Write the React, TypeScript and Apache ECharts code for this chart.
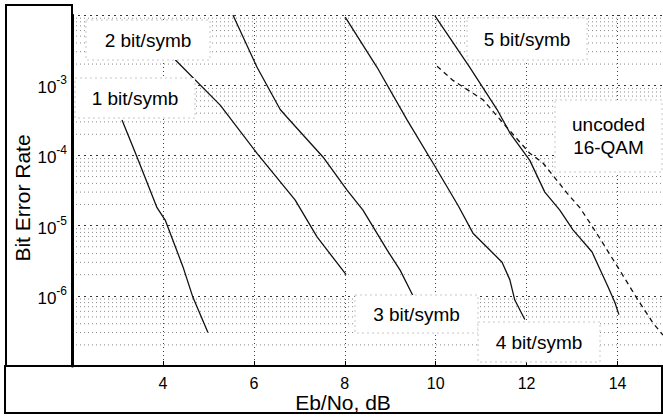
import React, { useEffect, useRef } from "react";
import * as echarts from "echarts";

const FONT = "'Liberation Sans', Arial, Helvetica, sans-serif";

// Eb/No (dB) vs bit error rate
const ber1bit: [number, number][] = [
  [3.1, 3.2e-4], [3.43, 9.5e-5], [3.87, 1.8e-5], [4.05, 1.2e-5],
  [4.44, 2.6e-6], [4.66, 9.5e-7], [4.99, 3.0e-7],
];
const ber2bit: [number, number][] = [
  [4.27, 2.3e-3], [5.26, 5.2e-4], [6.07, 1.07e-4], [6.91, 2.3e-5],
  [7.39, 6.9e-6], [8.03, 2.0e-6],
];
const ber3bit: [number, number][] = [
  [5.54, 1.0e-2], [6.07, 1.8e-3], [6.58, 4.5e-4], [6.73, 3.5e-4],
  [7.52, 9.5e-5], [8.05, 3.2e-5], [8.4, 1.66e-5], [8.93, 4.5e-6],
  [9.22, 2.3e-6], [9.5, 1.0e-6],
];
const ber4bit: [number, number][] = [
  [8.01, 9.3e-3], [8.71, 1.8e-3], [9.37, 3.2e-4], [9.94, 7.8e-5],
  [10.49, 1.95e-5], [10.82, 7.8e-6], [11.19, 4.5e-6], [11.46, 3.0e-6],
  [11.63, 1.7e-6], [11.74, 8.7e-7], [11.96, 4.6e-7],
];
const ber5bit: [number, number][] = [
  [9.98, 9.8e-3], [10.75, 1.8e-3], [11.35, 4.5e-4], [11.63, 2.1e-4],
  [12.07, 8.5e-5], [12.4, 3.0e-5], [12.73, 1.66e-5], [13.02, 8.7e-6],
  [13.44, 4.2e-6], [13.57, 2.75e-6], [13.79, 1.35e-6], [13.94, 8.1e-7],
  [14.03, 5.4e-7],
];
const berUncoded: [number, number][] = [
  [10.03, 1.86e-3], [10.38, 1.17e-3], [11.04, 6.2e-4], [11.48, 2.9e-4],
  [12.07, 1.07e-4], [12.36, 7.8e-5], [12.89, 2.9e-5], [13.17, 1.8e-5],
  [13.39, 1.1e-5], [13.61, 6.6e-6], [14.05, 2.3e-6], [14.45, 8.7e-7],
  [14.78, 4.1e-7], [15.0, 2.75e-7],
];

const curveNames = ["1 bit/symb", "2 bit/symb", "3 bit/symb", "4 bit/symb", "5 bit/symb", "uncoded 16-QAM"];
const labelTexts = ["1 bit/symb", "2 bit/symb", "3 bit/symb", "4 bit/symb", "5 bit/symb", "uncoded\n16-QAM"];
const xTitle = "Eb/No, dB";
const yTitle = "Bit Error Rate";
const xRange = [2, 15];
const labelledExponents = [-6, -5, -4, -3];
const decades = [-7, -6, -5, -4, -3];
const minorMultipliers = [2, 3, 4, 5, 6, 7, 8, 9];

export default function App() {
  const ref = useRef<HTMLDivElement>(null);
  useEffect(() => {
    if (!ref.current) return;
    const chart = echarts.init(ref.current, null, { renderer: "svg" });

    // minor (2..9 per decade) horizontal grid lines, as broken line segments
    const minorData: any[] = [];
    decades.forEach((e) =>
      minorMultipliers.forEach((k) => {
        const v = k * Math.pow(10, e);
        minorData.push([xRange[0], v], [xRange[1], v], "-");
      })
    );

    const curveData = [ber1bit, ber2bit, ber3bit, ber4bit, ber5bit, berUncoded];
    const series: any[] = [
      {
        name: "minor-grid",
        type: "line",
        data: minorData,
        symbol: "none",
        showSymbol: false,
        connectNulls: false,
        silent: true,
        z: 1,
        lineStyle: { color: "#8a8a8a", width: 1, type: [1, 3] },
      },
    ];
    curveData.forEach((d, i) =>
      series.push({
        name: curveNames[i],
        type: "line",
        data: d,
        symbol: "none",
        showSymbol: false,
        z: 5,
        lineStyle: {
          color: "#111",
          width: 1.3,
          type: i === 5 ? [5, 4] : "solid",
        },
      })
    );

    // label boxes: [x, y, w, h]
    const boxes: number[][] = [
      [75, 78, 120, 40],
      [86, 20, 124, 40],
      [355, 295, 123, 38],
      [478, 322, 122, 40],
      [467, 18, 120, 42],
      [555, 100, 107, 72],
    ];
    const labelGraphics: any[] = [];
    boxes.forEach((b, i) => {
      labelGraphics.push({
        type: "rect",
        shape: { x: b[0], y: b[1], width: b[2], height: b[3] },
        style: { fill: "#fff", stroke: "#c8c8c8", lineWidth: 1, lineDash: [2, 3] },
        z: 100,
      });
      labelGraphics.push({
        type: "text",
        x: b[0] + b[2] / 2,
        y: b[1] + b[3] / 2,
        style: {
          text: labelTexts[i],
          fontSize: 19,
          fontFamily: FONT,
          fill: "#000",
          align: "center",
          verticalAlign: "middle",
          lineHeight: 23,
        },
        z: 101,
      });
    });

    const option: any = {
      animation: false,
      backgroundColor: "#fff",
      grid: { left: 72, top: 15, right: 0, bottom: 51, containLabel: false },
      xAxis: {
        type: "value",
        min: xRange[0],
        max: xRange[1],
        interval: 2,
        axisLine: { show: true, lineStyle: { color: "#000", width: 2 } },
        axisTick: { show: true, inside: true, length: 5, lineStyle: { color: "#000" } },
        axisLabel: {
          color: "#000",
          fontSize: 16,
          fontFamily: FONT,
          margin: 9,
          showMinLabel: false,
          showMaxLabel: false,
        },
        splitLine: { show: true, lineStyle: { color: "#444", width: 1, type: [1, 3] } },
      },
      yAxis: {
        type: "log",
        logBase: 10,
        min: 1e-7,
        max: 1e-2,
        axisLine: { show: true, lineStyle: { color: "#000", width: 3 } },
        axisTick: { show: false },
        axisLabel: {
          color: "#000",
          fontFamily: FONT,
          margin: 5,
          formatter: (v: number) => {
            const e = Math.round(Math.log10(v));
            if (labelledExponents.indexOf(e) < 0) return "";
            return `{b|10}{s|${e}}`;
          },
          rich: {
            b: { fontSize: 17, fontFamily: FONT, color: "#000", lineHeight: 22, verticalAlign: "bottom" },
            s: { fontSize: 12, fontFamily: FONT, color: "#000", lineHeight: 22, verticalAlign: "top", padding: [0, 0, 10, 0] },
          },
        },
        splitLine: { show: true, lineStyle: { color: "#333", width: 1.2, type: [2, 4] } },
      },
      series,
      graphic: [
        {
          type: "rect",
          shape: { x: 6, y: 5, width: 66, height: 361 },
          style: { fill: "none", stroke: "#000", lineWidth: 2 },
          z: 50,
        },
        {
          type: "rect",
          shape: { x: 5, y: 366, width: 657, height: 47 },
          style: { fill: "none", stroke: "#000", lineWidth: 2 },
          z: 50,
        },
        {
          type: "text",
          x: 343,
          y: 402,
          style: {
            text: xTitle,
            fontSize: 21,
            fontFamily: FONT,
            fill: "#000",
            align: "center",
            verticalAlign: "middle",
          },
          z: 60,
        },
        {
          type: "text",
          x: 22,
          y: 198,
          rotation: Math.PI / 2,
          style: {
            text: yTitle,
            fontSize: 21,
            fontFamily: FONT,
            fill: "#000",
            align: "center",
            verticalAlign: "middle",
          },
          z: 60,
        },
        ...labelGraphics,
      ],
    };
    chart.setOption(option);
    return () => chart.dispose();
  }, []);
  return (
    <div
      ref={ref}
      style={{ position: "absolute", left: 0, top: 0, width: 663, height: 417, background: "#fff" }}
    />
  );
}
